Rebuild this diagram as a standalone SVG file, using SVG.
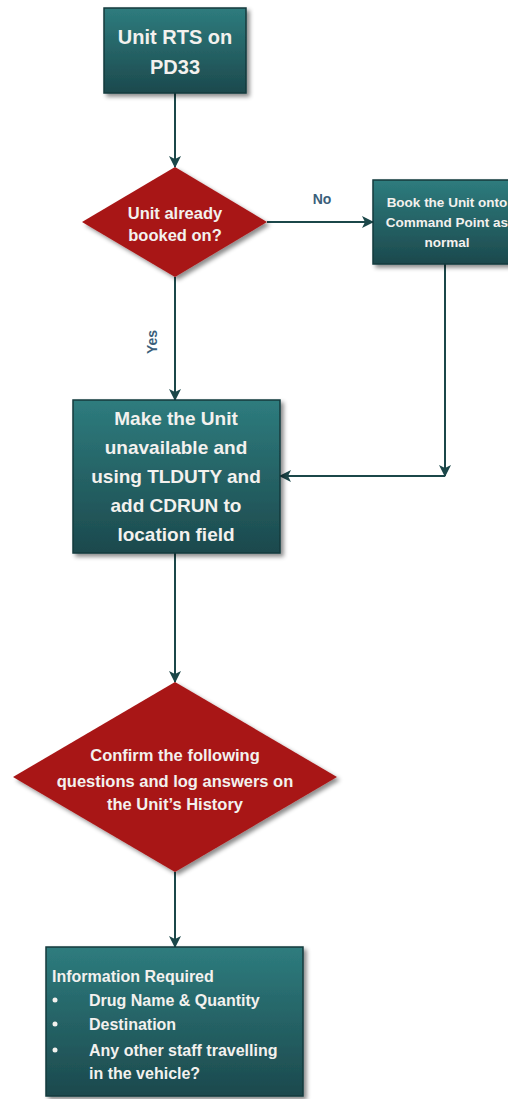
<svg xmlns="http://www.w3.org/2000/svg" width="508" height="1099" viewBox="0 0 508 1099">
<defs>
<linearGradient id="tealGrad" x1="0" y1="0" x2="0" y2="1">
<stop offset="0" stop-color="#2e7c7e"/>
<stop offset="1" stop-color="#1c494d"/>
</linearGradient>
<filter id="shadow" x="-10%" y="-10%" width="130%" height="130%">
<feDropShadow dx="3" dy="3" stdDeviation="2" flood-color="#000" flood-opacity="0.45"/>
</filter>
<marker id="arrow" viewBox="0 0 12 12" refX="11" refY="6" markerWidth="12" markerHeight="12" markerUnits="userSpaceOnUse" orient="auto">
<path d="M0,0 L12,6 L0,12 L3,6 Z" fill="#1b4749"/>
</marker>
<style>
.box{fill:url(#tealGrad);stroke:#163a3c;stroke-width:1.5;filter:url(#shadow);}
.dia{fill:#a81617;filter:url(#shadow);}
.t{font-family:"Liberation Sans",Arial,sans-serif;font-weight:bold;fill:#f3f1ee;text-anchor:middle;}
.tl{font-family:"Liberation Sans",Arial,sans-serif;font-weight:bold;fill:#f3f1ee;}
.lbl{font-family:"Liberation Sans",Arial,sans-serif;font-weight:bold;fill:#3b5f7b;font-size:14px;text-anchor:middle;}
.c{fill:none;stroke:#1b4749;stroke-width:2;}
</style>
</defs>

<g id="connectors">
<line class="c" x1="175" y1="93" x2="175" y2="167" marker-end="url(#arrow)"/>
<line class="c" x1="267" y1="222" x2="373" y2="222" marker-end="url(#arrow)"/>
<line class="c" x1="175" y1="277" x2="175" y2="400" marker-end="url(#arrow)"/>
<line class="c" x1="445" y1="264" x2="445" y2="476" marker-end="url(#arrow)"/>
<line class="c" x1="445" y1="476" x2="280" y2="476" marker-end="url(#arrow)"/>
<line class="c" x1="175" y1="553" x2="175" y2="682" marker-end="url(#arrow)"/>
<line class="c" x1="175" y1="872" x2="175" y2="947" marker-end="url(#arrow)"/>
<text class="lbl" x="322" y="204">No</text>
<text class="lbl" transform="translate(157,342) rotate(-90)">Yes</text>
</g>

<g id="node-start">
<rect class="box" x="104" y="8" width="142" height="85"/>
<text class="t" font-size="20" x="175" y="44">Unit RTS on</text>
<text class="t" font-size="20" x="175" y="74">PD33</text>
</g>

<g id="node-booked">
<polygon class="dia" points="175,167 267,222 175,277 82,222"/>
<text class="t" font-size="16.5" x="175" y="219">Unit already</text>
<text class="t" font-size="16.5" x="175" y="241">booked on?</text>
</g>

<g id="node-book">
<rect class="box" x="373" y="180" width="150" height="84"/>
<text class="t" font-size="13.5" x="447" y="207">Book the Unit onto</text>
<text class="t" font-size="13.5" x="447" y="227">Command Point as</text>
<text class="t" font-size="13.5" x="447" y="247">normal</text>
</g>

<g id="node-unavailable">
<rect class="box" x="73" y="400" width="207" height="153"/>
<text class="t" font-size="19" x="176" y="425">Make the Unit</text>
<text class="t" font-size="19" x="176" y="454">unavailable and</text>
<text class="t" font-size="19" x="176" y="483">using TLDUTY and</text>
<text class="t" font-size="19" x="176" y="512">add CDRUN to</text>
<text class="t" font-size="19" x="176" y="541">location field</text>
</g>

<g id="node-confirm">
<polygon class="dia" points="175,682 337,777 175,872 13,777"/>
<text class="t" font-size="16.5" x="175" y="761">Confirm the following</text>
<text class="t" font-size="16.5" x="175" y="787">questions and log answers on</text>
<text class="t" font-size="16.5" x="175" y="810">the Unit’s History</text>
</g>

<g id="node-info">
<rect class="box" x="46" y="947" width="257" height="149"/>
<text class="tl" font-size="16" x="52" y="982">Information Required</text>
<circle cx="55" cy="1000" r="2.5" fill="#f3f1ee"/>
<text class="tl" font-size="16" x="89" y="1006">Drug Name &amp; Quantity</text>
<circle cx="55" cy="1024" r="2.5" fill="#f3f1ee"/>
<text class="tl" font-size="16" x="89" y="1030">Destination</text>
<circle cx="55" cy="1050" r="2.5" fill="#f3f1ee"/>
<text class="tl" font-size="16" x="89" y="1056">Any other staff travelling</text>
<text class="tl" font-size="16" x="89" y="1079">in the vehicle?</text>
</g>
</svg>
